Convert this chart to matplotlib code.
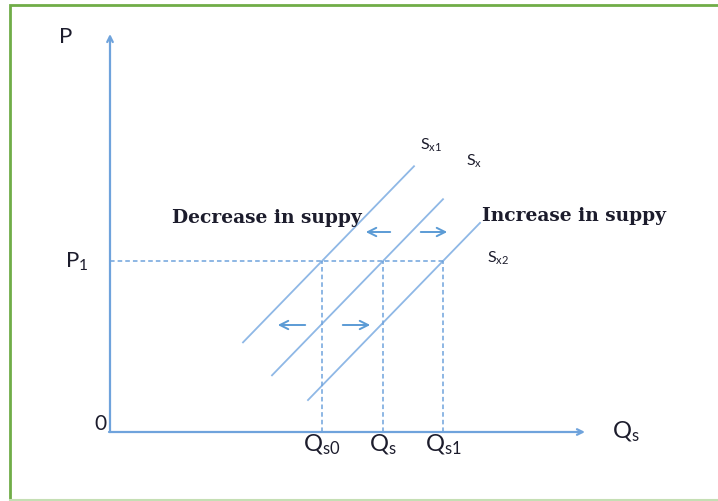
import numpy as np
import matplotlib.pyplot as plt
from matplotlib.patches import FancyArrowPatch

plt.rcParams['mathtext.fontset'] = 'custom'
plt.rcParams['mathtext.rm'] = 'Lato'
plt.rcParams['mathtext.it'] = 'Lato'
plt.rcParams['font.family'] = ['Lato', 'DejaVu Sans']

# chart values (quantity, price units measured from the origin)
p1 = 171
q_ticks = [212, 273, 333]
q_labels = [r'$\mathrm{Q_{s0}}$', r'$\mathrm{Q_{s}}$', r'$\mathrm{Q_{s1}}$']
curve_names = [r'$\mathrm{S_{x1}}$', r'$\mathrm{S_{x}}$', r'$\mathrm{S_{x2}}$']
curve_lo = [133, 162, 198]
curve_hi = [304, 333, 370]
slope = 1.03
# shift arrows: (start, end, level)
shift_arrows = [(283, 253, 200), (308, 340, 200), (198, 165, 107), (230, 263, 107)]
y_top = 398
x_right = 475

axis_col = '#6fa3dc'
curve_col = '#8fb8e6'
text_col = '#1c1c2c'

fig = plt.figure(figsize=(7.18, 5.02), dpi=100)
ax = fig.add_axes([0, 0, 1, 1])
ax.set_xlim(-110, 608)
ax.set_ylim(-69, 433)
ax.axis('off')

# frame
ax.plot([-100, -100, 608], [-68, 427, 427], color='#70ad47', lw=2, solid_joinstyle='miter')
ax.plot([-100, 608], [-68, -68], color='#c5dfb4', lw=1.5)

# axes with arrows
ax.annotate('', xy=(0, y_top), xytext=(0, 0),
            arrowprops=dict(arrowstyle='->', color=axis_col, lw=1.6, shrinkA=0, shrinkB=0))
ax.annotate('', xy=(x_right, 0), xytext=(-1, 0),
            arrowprops=dict(arrowstyle='->', color=axis_col, lw=1.6, shrinkA=0, shrinkB=0))

# supply curves
for q0, lo, hi in zip(q_ticks, curve_lo, curve_hi):
    xs = np.array([lo, hi])
    ax.plot(xs, p1 + slope * (xs - q0), color=curve_col, lw=1.3)

# dashed guides
ax.plot([0, q_ticks[-1]], [p1, p1], color=axis_col, lw=1.1, ls=(0, (3, 2)))
for q in q_ticks:
    ax.plot([q, q], [0, p1], color=axis_col, lw=1.1, ls=(0, (3, 2)))

# shift arrows
for x0, x1, y in shift_arrows:
    ax.add_patch(FancyArrowPatch((x0, y), (x1, y), arrowstyle='->,head_length=6,head_width=3',
                                 color='#5b9bd5', lw=1.4, mutation_scale=1))

# labels
ax.text(-44, 396, 'P', fontsize=16, color=text_col, ha='center', va='center')
ax.text(-33, 171, r'$\mathrm{P_1}$', fontsize=16, color=text_col, ha='center', va='center')
ax.text(-10, 9, '0', fontsize=15, color=text_col, ha='center', va='center')
ax.text(502, 1, r'$\mathrm{Q_s}$', fontsize=17, color=text_col, ha='left', va='center')
for q, lab in zip(q_ticks, q_labels):
    ax.text(q, -12, lab, fontsize=17, color=text_col, ha='center', va='center')

name_pos = [(321, 288), (364, 272), (388, 175)]
for (x, y), lab in zip(name_pos, curve_names):
    ax.text(x, y, lab, fontsize=11.5, color=text_col, ha='center', va='center')

ax.text(62, 215, 'Decrease in suppy', fontsize=13.4, fontweight='bold',
        family='DejaVu Serif', color=text_col, ha='left', va='center')
ax.text(372, 217, 'Increase in suppy', fontsize=13.4, fontweight='bold',
        family='DejaVu Serif', color=text_col, ha='left', va='center')

fig.savefig('out.png', dpi=100)
